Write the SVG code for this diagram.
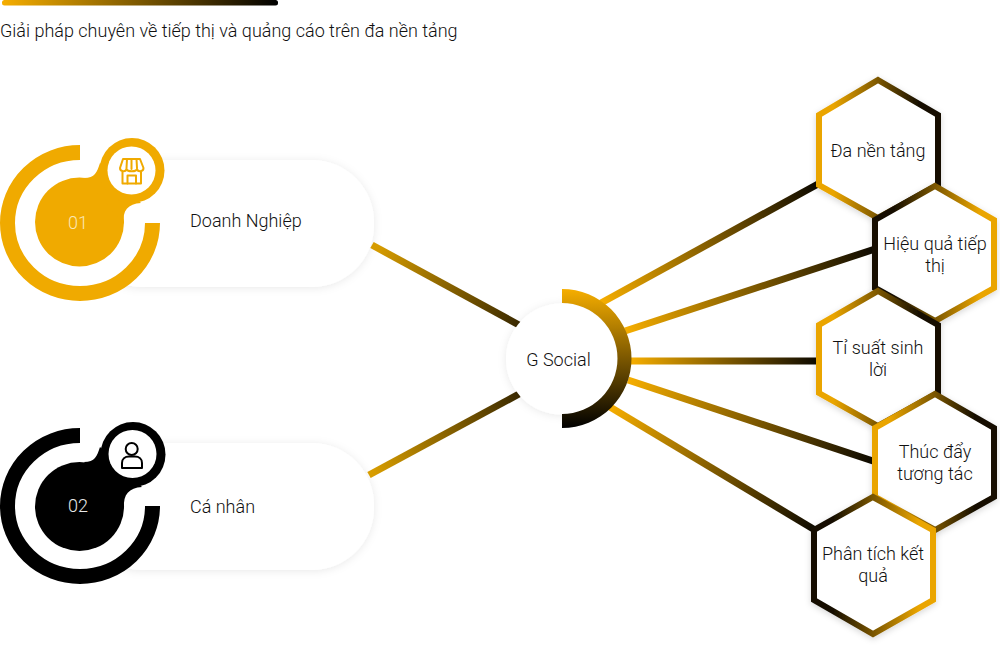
<svg xmlns="http://www.w3.org/2000/svg" width="1000" height="655" viewBox="0 0 1000 655">
<style>
text{font-family:Roboto,"Liberation Sans",sans-serif;font-weight:300;font-size:18px;fill:#111}
.c{text-anchor:middle}
.pill{fill:#fff;filter:url(#sh)}
.hex{fill:#fff;stroke-width:6;stroke-linejoin:miter;filter:url(#hs)}
.conn{fill:none;stroke-width:7}
.gold{fill:#f0aa00}.blk{fill:#000}
.ring{fill:none;stroke-width:15}
.ico{fill:none;stroke-width:2;stroke-linejoin:round;stroke-linecap:round}
</style>
<defs>
<filter id="sh" x="-20%" y="-30%" width="140%" height="160%"><feDropShadow dx="0" dy="1" stdDeviation="4" flood-color="#000" flood-opacity="0.09"/></filter>
<filter id="hs" x="-20%" y="-20%" width="140%" height="140%"><feDropShadow dx="0" dy="2" stdDeviation="3" flood-color="#000" flood-opacity="0.16"/></filter>
<linearGradient id="bar" x1="0" x2="1" y1="0" y2="0"><stop offset="0" stop-color="#f6ae00"/><stop offset="1" stop-color="#000"/></linearGradient>
<linearGradient id="gv" x1="0" x2="0" y1="0" y2="1"><stop offset="0" stop-color="#f6ae00"/><stop offset="1" stop-color="#000"/></linearGradient>
<linearGradient id="gk" x1="0" x2="1" y1="0" y2="0"><stop offset="0.12" stop-color="#eaa500"/><stop offset="0.85" stop-color="#140d00"/></linearGradient>
<linearGradient id="kg" x1="0" x2="1" y1="0" y2="0"><stop offset="0.15" stop-color="#140d00"/><stop offset="0.88" stop-color="#eaa500"/></linearGradient>
<linearGradient id="l1" gradientUnits="userSpaceOnUse" x1="372" y1="245" x2="519" y2="325"><stop offset="0" stop-color="#dca000"/><stop offset="1" stop-color="#3a2900"/></linearGradient>
<linearGradient id="l2" gradientUnits="userSpaceOnUse" x1="369" y1="475" x2="519" y2="394"><stop offset="0" stop-color="#dca000"/><stop offset="1" stop-color="#3a2900"/></linearGradient>
<linearGradient id="r1" gradientUnits="userSpaceOnUse" x1="601" y1="303" x2="818" y2="184"><stop offset="0" stop-color="#f6ae00"/><stop offset="1" stop-color="#0d0900"/></linearGradient>
<linearGradient id="r2" gradientUnits="userSpaceOnUse" x1="625" y1="331" x2="875" y2="249"><stop offset="0" stop-color="#f6ae00"/><stop offset="1" stop-color="#0d0900"/></linearGradient>
<linearGradient id="r3" gradientUnits="userSpaceOnUse" x1="631" y1="361" x2="817" y2="361"><stop offset="0" stop-color="#f6ae00"/><stop offset="1" stop-color="#0d0900"/></linearGradient>
<linearGradient id="r4" gradientUnits="userSpaceOnUse" x1="628" y1="380" x2="873" y2="461"><stop offset="0" stop-color="#f6ae00"/><stop offset="1" stop-color="#0d0900"/></linearGradient>
<linearGradient id="r5" gradientUnits="userSpaceOnUse" x1="610" y1="407" x2="815" y2="530"><stop offset="0" stop-color="#f6ae00"/><stop offset="1" stop-color="#0d0900"/></linearGradient>
</defs>
<rect x="2" y="0" width="276" height="5.500" rx="2.500" fill="url(#bar)"/>
<text x="0" y="37">Giải pháp chuyên về tiếp thị và quảng cáo trên đa nền tảng</text>
<g id="connectors" class="conn">
<path class="conn" stroke="url(#l1)" d="M372 245L519 325"/>
<path class="conn" stroke="url(#l2)" d="M369 475L519 394"/>
<path class="conn" stroke="url(#r1)" d="M601 303L818 184"/>
<path class="conn" stroke="url(#r2)" d="M625 331L875 249"/>
<path class="conn" stroke="url(#r3)" d="M631 361L817 361"/>
<path class="conn" stroke="url(#r4)" d="M628 380L873 461"/>
<path class="conn" stroke="url(#r5)" d="M610 407L815 530"/>
</g>
<g id="node-doanh-nghiep">
<rect class="pill" x="80" y="160" width="294" height="127" rx="62"/>
<ellipse cx="80" cy="223" rx="70" ry="68" fill="#fff"/>
<path class="ring" stroke="#f0aa00" d="M80 152.500A72.500 70.500 0 1 0 152.500 223"/>
<circle class="gold" cx="79.500" cy="222" r="44.500"/>
<path class="gold" d="M84 178C95 178 97 172 100 163L141 203C128 204 122 210 124 224Z"/>
<circle class="gold" cx="132" cy="170.500" r="32.500"/>
<circle cx="131.500" cy="170.500" r="24" fill="#fff"/>
<g class="ico" stroke="#f0aa00"><path d="M123 159H140L143.500 168C143.500 172 137.500 172 137 169C136.500 172 127 172 126.500 169C126 172 120 172 120 168Z"/><path d="M127 159L126.500 168M131.500 159V169M136.500 159L137 168"/><path d="M122.500 172V183.500H141V172"/><path d="M127.500 183.500V175.500H136V183.500"/></g>
<text x="68" y="229" style="fill:#fbe7b5">01</text>
<text x="190" y="227">Doanh Nghiệp</text>
</g>
<g id="node-ca-nhan">
<rect class="pill" x="80" y="443" width="294" height="127" rx="62"/>
<ellipse cx="80" cy="506" rx="70" ry="68" fill="#fff"/>
<path class="ring" stroke="#000" d="M80 435.500A72.500 70.500 0 1 0 152.500 506"/>
<circle class="blk" cx="79.500" cy="506.500" r="44.500"/>
<path class="blk" d="M84 462C95 462 97 456 100 447L142 487C129 488 123 494 124 508Z"/>
<circle class="blk" cx="133" cy="454.500" r="32.500"/>
<circle cx="132.500" cy="454" r="24" fill="#fff"/>
<g class="ico" stroke="#000"><circle cx="131.700" cy="449" r="6"/><path d="M122 468V463C122 459 125 456.500 129 456.500H135C139 456.500 142 459 142 463V468Z"/></g>
<text x="68" y="512" style="fill:#e8e8e8">02</text>
<text x="190" y="513">Cá nhân</text>
</g>
<g id="node-g-social">
<circle cx="561.500" cy="359" r="55.500" class="pill"/>
<path d="M562 289A69.500 69.500 0 0 1 562 428V414A55.500 55.500 0 0 0 562 303Z" fill="url(#gv)"/>
<text x="558.500" y="366" class="c">G Social</text>
</g>
<g id="node-da-nen-tang">
<path class="hex" stroke="url(#gk)" d="M878 80L938 115V185L878 218L819 185V115Z"/>
<text x="878" y="157" class="c">Đa nền tảng</text>
</g>
<g id="node-hieu-qua">
<path class="hex" stroke="url(#kg)" d="M935 186L994 220V288L935 321L875 288V220Z"/>
<text x="935" y="250" class="c">Hiệu quả tiếp</text>
<text x="935" y="272" class="c">thị</text>
</g>
<g id="node-ti-suat">
<path class="hex" stroke="url(#gk)" d="M878 291L938 325V393L878 426L819 393V325Z"/>
<text x="878" y="354" class="c">Tỉ suất sinh</text>
<text x="878" y="376" class="c">lời</text>
</g>
<g id="node-thuc-day">
<path class="hex" stroke="url(#gk)" d="M935 394L994 428V497L935 530L875 497V428Z"/>
<text x="935" y="458" class="c">Thúc đẩy</text>
<text x="935" y="480" class="c">tương tác</text>
</g>
<g id="node-phan-tich">
<path class="hex" stroke="url(#kg)" d="M873 497L933 530V600L873 634L814 600V530Z"/>
<text x="873" y="560" class="c">Phân tích kết</text>
<text x="873" y="582" class="c">quả</text>
</g>
</svg>
